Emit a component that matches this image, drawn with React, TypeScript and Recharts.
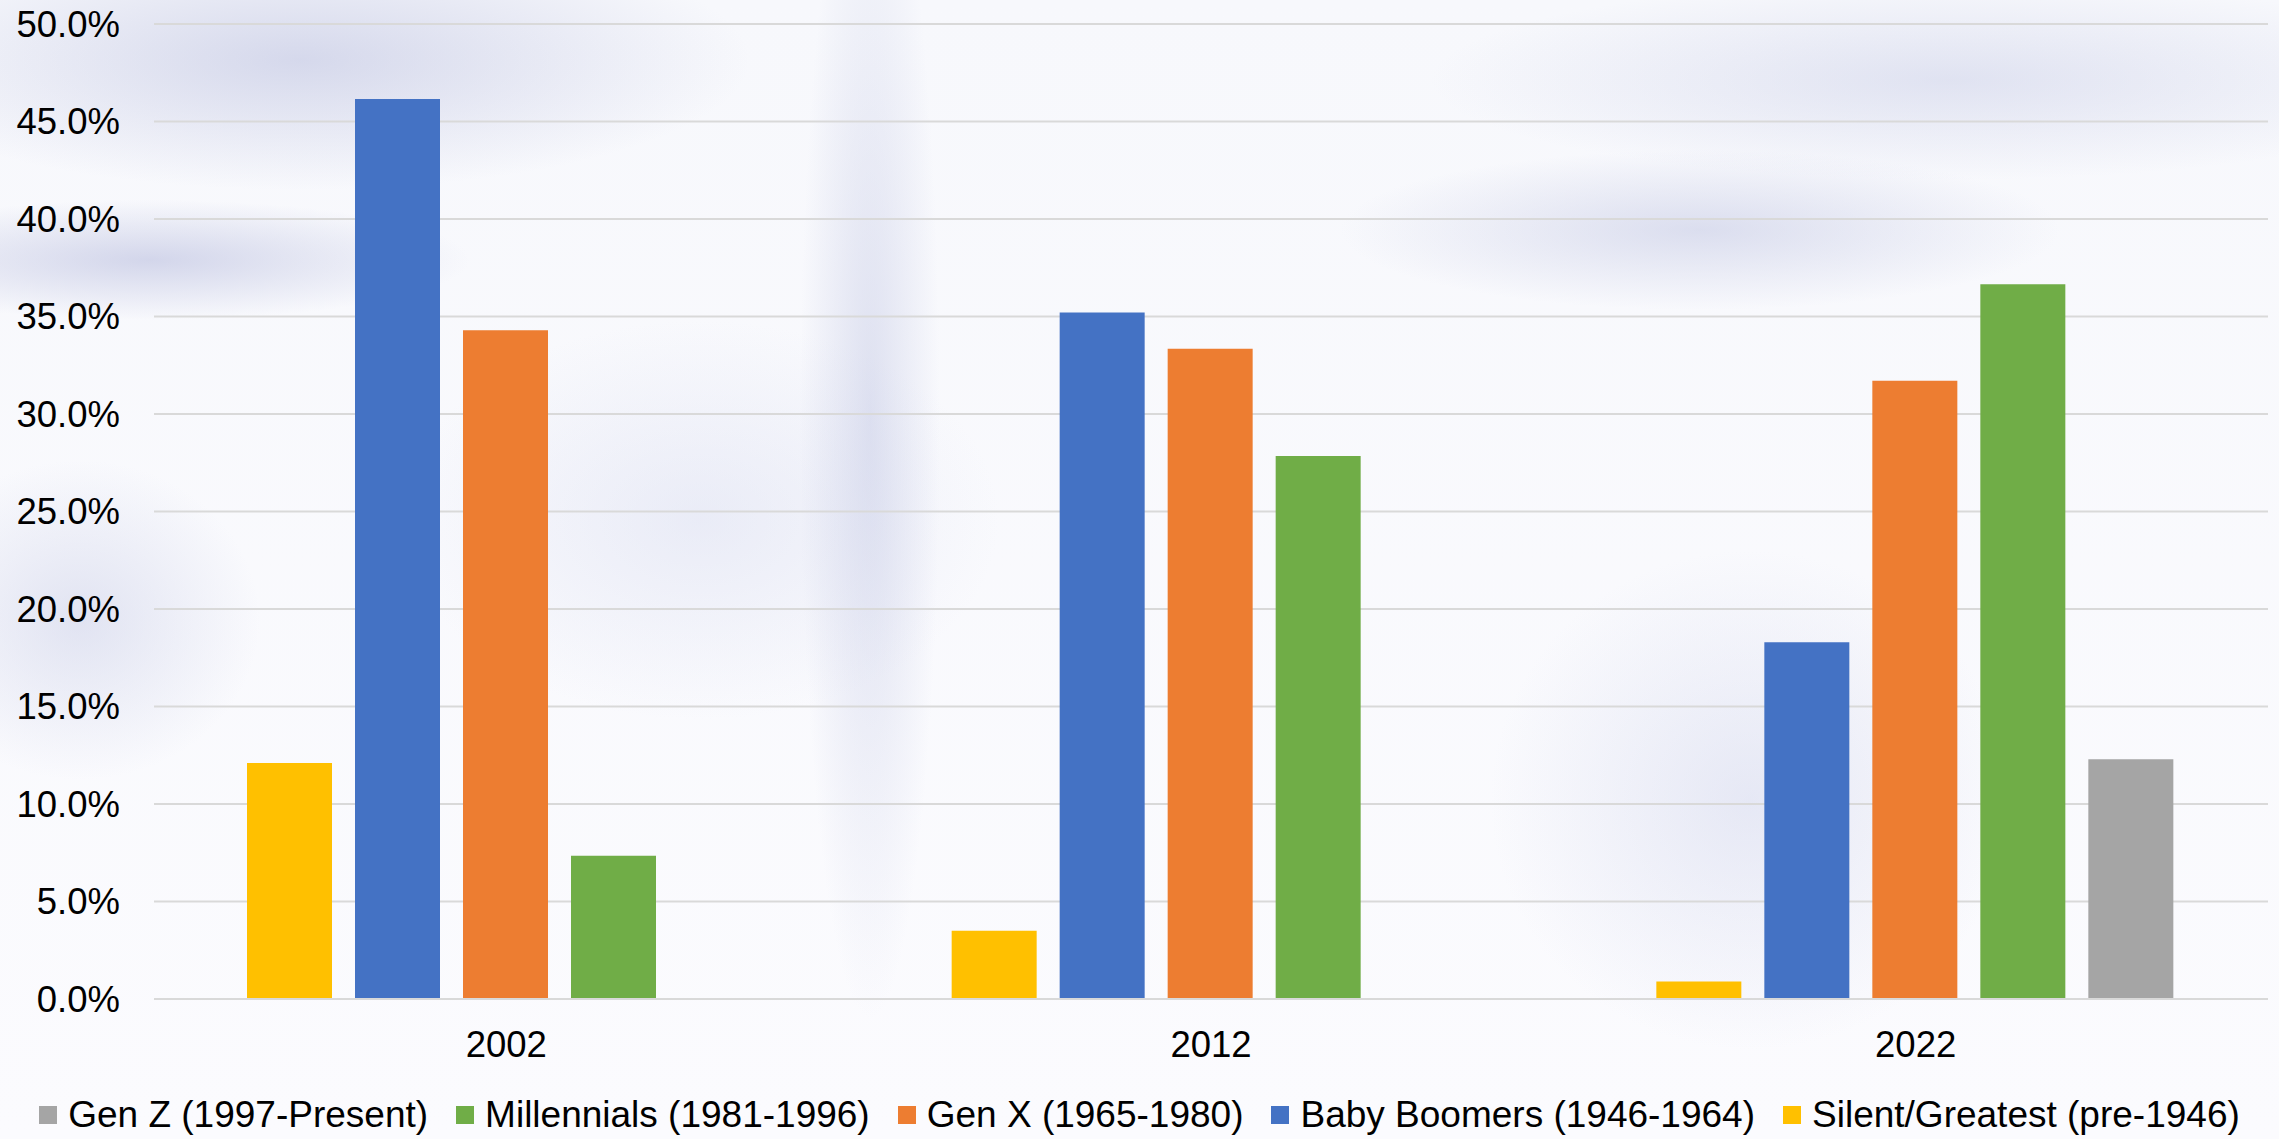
import React from 'react';
import { BarChart, Bar, XAxis, YAxis, CartesianGrid, Legend } from 'recharts';

const categories = ['2002', '2012', '2022'];
const silentGreatest = [12.1, 3.5, 0.9];
const babyBoomers = [46.15, 35.2, 18.3];
const genX = [34.3, 33.35, 31.7];
const millennials = [7.35, 27.85, 36.65];
const genZ: (number | null)[] = [null, null, 12.3];
const yTicks = [0, 5, 10, 15, 20, 25, 30, 35, 40, 45, 50];

const seriesNames = {
  silent: 'Silent/Greatest (pre-1946)',
  boomers: 'Baby Boomers (1946-1964)',
  genX: 'Gen X (1965-1980)',
  millennials: 'Millennials (1981-1996)',
  genZ: 'Gen Z (1997-Present)',
};

const colors = {
  silent: '#FFC000',
  boomers: '#4472C4',
  genX: '#ED7D31',
  millennials: '#70AD47',
  genZ: '#A5A5A5',
};

const legendOrder: (keyof typeof seriesNames)[] = ['genZ', 'millennials', 'genX', 'boomers', 'silent'];

const data = categories.map((c, i) => ({
  year: c,
  silent: silentGreatest[i],
  boomers: babyBoomers[i],
  genX: genX[i],
  millennials: millennials[i],
  genZ: genZ[i],
}));

const FONT = '"Liberation Sans", Arial, sans-serif';

const LegendContent = () => (
  <div
    style={{
      height: 48,
      display: 'flex',
      alignItems: 'center',
      justifyContent: 'center',
      fontFamily: FONT,
      fontSize: 37,
      color: '#000',
      whiteSpace: 'nowrap',
    }}
  >
    {legendOrder.map((k, i) => (
      <div key={k} style={{ display: 'flex', alignItems: 'center', marginLeft: i === 0 ? 0 : 28 }}>
        <div style={{ width: 18, height: 18, background: colors[k], marginRight: 11 }} />
        <span>{seriesNames[k]}</span>
      </div>
    ))}
  </div>
);

const bg = [
  'radial-gradient(ellipse 450px 130px at 300px 60px, rgba(185,190,222,0.55), rgba(185,190,222,0) 100%)',
  'radial-gradient(ellipse 320px 60px at 150px 260px, rgba(180,185,220,0.55), rgba(180,185,220,0) 100%)',
  'radial-gradient(ellipse 70px 600px at 870px 420px, rgba(195,200,228,0.5), rgba(195,200,228,0) 100%)',
  'radial-gradient(ellipse 360px 80px at 1700px 230px, rgba(190,195,225,0.5), rgba(190,195,225,0) 100%)',
  'radial-gradient(ellipse 520px 100px at 1950px 80px, rgba(195,200,228,0.45), rgba(195,200,228,0) 100%)',
  'radial-gradient(ellipse 180px 160px at 80px 620px, rgba(195,200,228,0.45), rgba(195,200,228,0) 100%)',
  'radial-gradient(ellipse 260px 250px at 1750px 800px, rgba(200,205,232,0.4), rgba(200,205,232,0) 100%)',
  'radial-gradient(ellipse 300px 200px at 700px 520px, rgba(205,210,235,0.35), rgba(205,210,235,0) 100%)',
  'linear-gradient(#f7f8fc, #fbfbfe)',
].join(', ');

export default function App() {
  return (
    <div style={{ position: 'absolute', left: 0, top: 0, width: 2279, height: 1139, background: bg }}>
      <BarChart
        width={2279}
        height={1139}
        data={data}
        margin={{ top: 24, right: 11, left: 0, bottom: 0 }}
        barCategoryGap={93}
        barGap={23}
      >
        <CartesianGrid horizontal vertical={false} stroke="#d9d9d9" strokeWidth={2} />
        <XAxis
          dataKey="year"
          height={92}
          tickLine={false}
          tickSize={0}
          tickMargin={32}
          axisLine={{ stroke: '#d9d9d9', strokeWidth: 2 }}
          tick={{ fill: '#000', fontSize: 36.5, fontFamily: FONT }}
        />
        <YAxis
          width={154}
          domain={[0, 50]}
          ticks={yTicks}
          interval={0}
          tickFormatter={(v: number) => `${v.toFixed(1)}%`}
          axisLine={false}
          tickLine={false}
          tickSize={0}
          tickMargin={34}
          tick={{ fill: '#000', fontSize: 36.5, fontFamily: FONT }}
        />
        <Legend
          verticalAlign="bottom"
          content={<LegendContent />}
          wrapperStyle={{ left: 0, width: 2279, height: 48, bottom: 0 }}
        />
        <Bar dataKey="silent" name={seriesNames.silent} fill={colors.silent} isAnimationActive={false} />
        <Bar dataKey="boomers" name={seriesNames.boomers} fill={colors.boomers} isAnimationActive={false} />
        <Bar dataKey="genX" name={seriesNames.genX} fill={colors.genX} isAnimationActive={false} />
        <Bar dataKey="millennials" name={seriesNames.millennials} fill={colors.millennials} isAnimationActive={false} />
        <Bar dataKey="genZ" name={seriesNames.genZ} fill={colors.genZ} isAnimationActive={false} />
      </BarChart>
    </div>
  );
}
